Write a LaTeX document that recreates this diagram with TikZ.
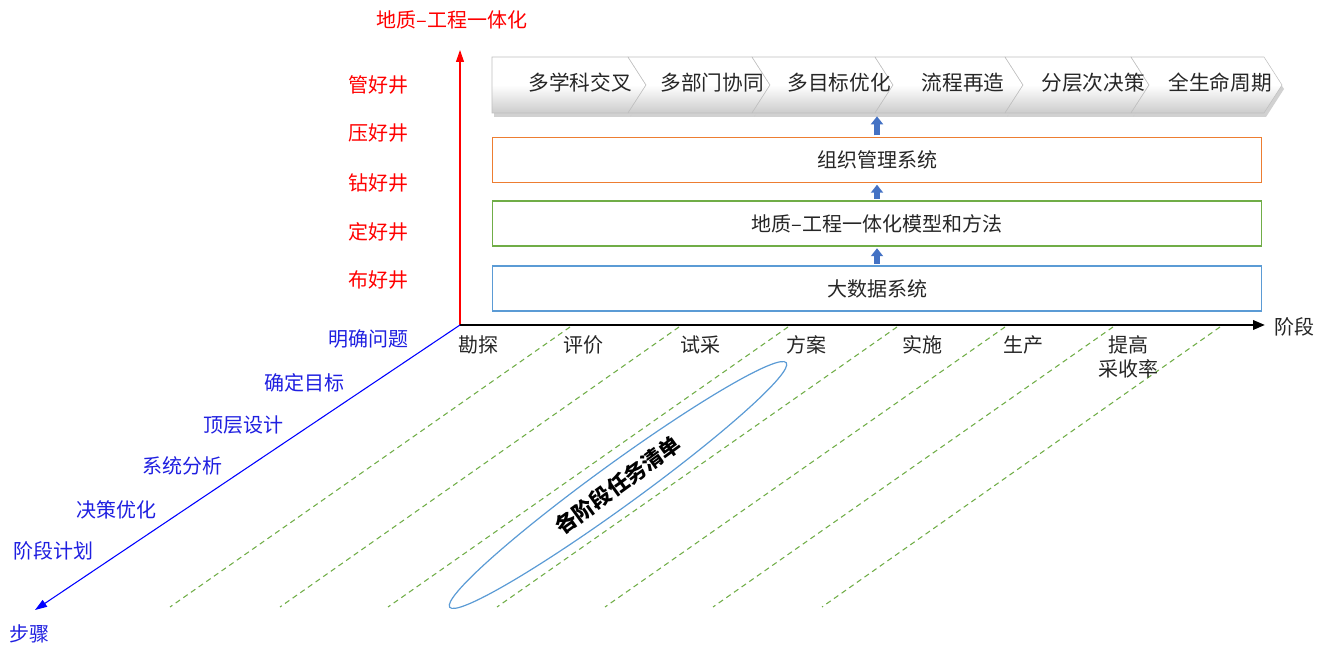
\documentclass[tikz,border=0pt]{standalone}
\usepackage{fontspec}
\newfontfamily\cjk{Noto Sans CJK SC}
\usetikzlibrary{arrows.meta,shapes.geometric}
\definecolor{boxblue}{HTML}{5B9BD5}
\definecolor{boxgreen}{HTML}{70AD47}
\definecolor{boxorange}{HTML}{ED7D31}
\definecolor{arrblue}{HTML}{4472C4}
\definecolor{labblue}{HTML}{1F1FE0}
\definecolor{txtgray}{HTML}{262626}
\begin{document}
\begin{tikzpicture}[x=0.75pt,y=-0.75pt,
  every node/.style={font=\cjk\fontsize{15}{18}\selectfont, text=txtgray, inner sep=1pt},
  redlab/.style={text=red},
  bluelab/.style={text=labblue},
  layerbox/.style={draw, line width=1.1pt, minimum width=577pt, minimum height=34pt, fill=white},
  uparrow/.style={draw=arrblue, line width=4.5pt, -{Triangle[length=6pt,width=9pt]}, shorten <=1pt, shorten >=1pt},
  dashline/.style={draw=boxgreen, line width=0.8pt, dash pattern=on 4pt off 3pt},
  chev/.style={draw=black!25, line width=0.4pt, top color=white, bottom color=black!20, middle color=white},
  chevshadow/.style={fill=black!40, opacity=0.45},
]
\useasboundingbox (0,0) rectangle (1329,648);

% axes
\coordinate (O) at (460,325);
\coordinate (ye) at (460,50);
\coordinate (xe) at (1265,325);
\coordinate (ze) at (35,610);
\draw[red, line width=0.8pt, -{Triangle[length=9pt,width=6pt]}] (O) -- (ye);
\draw[black, line width=1.8pt, -{Triangle[length=9pt,width=7pt]}] (O) -- (xe);
\draw[blue, line width=0.8pt, -{Triangle[length=9pt,width=6pt]}] (O) -- (ze);

\node[redlab] (ytitle) at (452,20) {地质–工程一体化};
\node (xtitle) at (1294,327) {阶段};
\node[bluelab] (ztitle) at (30,634) {步骤};

% red labels
\node[redlab] (r1) at (378,85) {管好井};
\node[redlab] (r2) at (378,133) {压好井};
\node[redlab] (r3) at (378,183) {钻好井};
\node[redlab] (r4) at (378,232) {定好井};
\node[redlab] (r5) at (378,280) {布好井};

% blue labels
\node[bluelab] (s1) at (368,339) {明确问题};
\node[bluelab] (s2) at (304,383) {确定目标};
\node[bluelab] (s3) at (243,425) {顶层设计};
\node[bluelab] (s4) at (182,466) {系统分析};
\node[bluelab] (s5) at (116,510) {决策优化};
\node[bluelab] (s6) at (53,551) {阶段计划};

% dashed lines
\foreach \a/\b in {570/170, 679/280, 788/388, 897/497, 1005/605, 1113/713, 1220/822}
  \draw[dashline] (\a,327) -- (\b,607);

% stage labels
\node (p1) at (478,345) {勘探};
\node (p2) at (583,345) {评价};
\node (p3) at (700,345) {试采};
\node (p4) at (806,345) {方案};
\node (p5) at (922,345) {实施};
\node (p6) at (1023,345) {生产};
\node[align=center, font=\cjk\fontsize{15}{17.5}\selectfont] (p7) at (1128,357) {提高\\采收率};

% task ellipse
\node[ellipse, draw=boxblue, line width=0.9pt, rotate=36, minimum width=312pt, minimum height=32pt, inner sep=0pt,
      font=\cjk\bfseries\fontsize{16}{18}\selectfont, text=black] (task) at (618,485) {各阶段任务清单};

% layer boxes
\node[layerbox, draw=boxblue] (b1) at (877,288.5) {大数据系统};
\node[layerbox, draw=boxgreen] (b2) at (877,223.5) {地质–工程一体化模型和方法};
\node[layerbox, draw=boxorange] (b3) at (877,160) {组织管理系统};

% chevrons: shadows
\foreach \l/\r/\t [count=\i] in {492/628/646, 628/752/770, 752/875/893, 875/1005/1023, 1005/1131/1149, 1131/1264/1282}{
  \ifnum\i=1
    \fill[chevshadow] (\l+2,61) -- (\r+2,61) -- (\t+2,89) -- (\r+2,117) -- (\l+2,117) -- cycle;
  \else
    \fill[chevshadow] (\l+2,61) -- (\r+2,61) -- (\t+2,89) -- (\r+2,117) -- (\l+2,117) -- (\l+20,89) -- cycle;
  \fi
}
\foreach \l/\r/\t [count=\i] in {492/628/646, 628/752/770, 752/875/893, 875/1005/1023, 1005/1131/1149, 1131/1264/1282}{
  \ifnum\i=1
    \path[chev] (\l,57) -- (\r,57) -- (\t,85) -- (\r,113) -- (\l,113) -- cycle;
  \else
    \path[chev] (\l,57) -- (\r,57) -- (\t,85) -- (\r,113) -- (\l,113) -- (\l+18,85) -- cycle;
  \fi
}
\coordinate (chevbottom) at (877,115);
\node[font=\cjk\fontsize{15.5}{18}\selectfont] (c1) at (580,83) {多学科交叉};
\node[font=\cjk\fontsize{15.5}{18}\selectfont] (c2) at (712,83) {多部门协同};
\node[font=\cjk\fontsize{15.5}{18}\selectfont] (c3) at (839,83) {多目标优化};
\node[font=\cjk\fontsize{15.5}{18}\selectfont] (c4) at (963,83) {流程再造};
\node[font=\cjk\fontsize{15.5}{18}\selectfont] (c5) at (1093,83) {分层次决策};
\node[font=\cjk\fontsize{15.5}{18}\selectfont] (c6) at (1220,83) {全生命周期};

% block arrows
\draw[uparrow] (b1.north) -- (b2.south);
\draw[uparrow] (b2.north) -- (b3.south);
\draw[uparrow] (b3.north) -- (chevbottom);
\end{tikzpicture}
\end{document}
